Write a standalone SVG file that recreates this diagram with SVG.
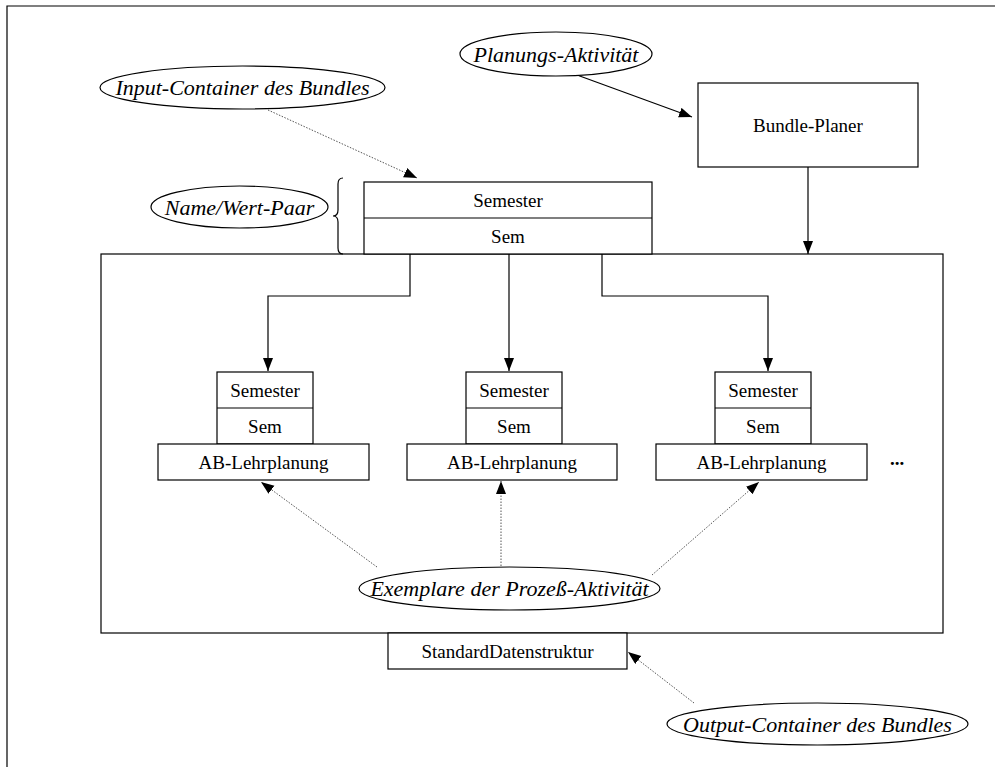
<svg xmlns="http://www.w3.org/2000/svg" width="995" height="767" viewBox="0 0 995 767">
  <style>
    .box { fill: #fff; stroke: #000; stroke-width: 1.2; }
    .oval { fill: #fff; stroke: #000; stroke-width: 1.2; }
    .lbl { font-family: "Liberation Serif", "Times New Roman", serif; font-size: 19px; fill: #000; text-anchor: middle; }
    .note { font-family: "Liberation Serif", "Times New Roman", serif; font-size: 22px; font-style: italic; fill: #000; text-anchor: middle; }
    .solid { fill: none; stroke: #000; stroke-width: 1.2; }
    .dotted { fill: none; stroke: #555; stroke-width: 1; stroke-dasharray: 1.5 1.5; }
    .frame { fill: none; stroke: #000; stroke-width: 1.2; }
  </style>
  <defs>
    <marker id="head" markerUnits="userSpaceOnUse" markerWidth="14" markerHeight="12" refX="13" refY="5" orient="auto">
      <path d="M0,0 L13,5 L0,10 z" fill="#000"/>
    </marker>
  </defs>

  <rect width="995" height="767" fill="#fff"/>

  <!-- page frame -->
  <path class="frame" d="M7,767 L7,6 L995,6"/>

  <!-- bundle container -->
  <g id="bundle">
    <rect class="box" x="101" y="254" width="842" height="379" fill="none"/>
  </g>

  <g id="connectors">
    <!-- planning activity to planner -->
    <line class="solid" x1="577" y1="75" x2="692" y2="117" marker-end="url(#head)"/>
    <!-- planner to bundle -->
    <line class="solid" x1="808" y1="167" x2="808" y2="254" marker-end="url(#head)"/>
    <!-- input container to instances -->
    <polyline class="solid" points="410,254 410,296 268,296 268,371" marker-end="url(#head)"/>
    <line class="solid" x1="509" y1="254" x2="509" y2="371" marker-end="url(#head)"/>
    <polyline class="solid" points="602,254 602,296 768,296 768,371" marker-end="url(#head)"/>
    <!-- annotations -->
    <line class="dotted" x1="268" y1="110" x2="417" y2="178" marker-end="url(#head)"/>
    <line class="dotted" x1="377" y1="567" x2="261" y2="482" marker-end="url(#head)"/>
    <line class="dotted" x1="501" y1="566" x2="501" y2="481" marker-end="url(#head)"/>
    <line class="dotted" x1="652" y1="575" x2="759" y2="482" marker-end="url(#head)"/>
    <line class="dotted" x1="694" y1="703" x2="628" y2="652" marker-end="url(#head)"/>
    <!-- brace for name/value pair -->
    <path class="solid" d="M343,178 Q338,178 338,184 L338,210 Q338,216 333,216 Q338,216 338,222 L338,248 Q338,254 343,254"/>
  </g>

  <g id="planungs-aktivitaet">
    <ellipse class="oval" cx="556" cy="54" rx="96" ry="22"/>
    <text class="note" x="556" y="61.5">Planungs-Aktivität</text>
  </g>

  <g id="input-container">
    <ellipse class="oval" cx="242.5" cy="87.5" rx="142.5" ry="21.5"/>
    <text class="note" x="242.5" y="95">Input-Container des Bundles</text>
  </g>

  <g id="bundle-planer">
    <rect class="box" x="698" y="83" width="220" height="84"/>
    <text class="lbl" x="808" y="131.5">Bundle-Planer</text>
  </g>

  <g id="name-wert-paar">
    <ellipse class="oval" cx="239.5" cy="207" rx="88.5" ry="21"/>
    <text class="note" x="239.5" y="214.5">Name/Wert-Paar</text>
  </g>

  <g id="input-pair">
    <rect class="box" x="364" y="182" width="288" height="72"/>
    <line class="solid" x1="364" y1="218" x2="652" y2="218"/>
    <text class="lbl" x="508" y="206.5">Semester</text>
    <text class="lbl" x="508" y="242.5">Sem</text>
  </g>

  <g id="instance-1">
    <rect class="box" x="217" y="372" width="96" height="72"/>
    <line class="solid" x1="217" y1="408" x2="313" y2="408"/>
    <text class="lbl" x="265" y="396.5">Semester</text>
    <text class="lbl" x="265" y="432.5">Sem</text>
    <rect class="box" x="158" y="444" width="211" height="36"/>
    <text class="lbl" x="263.5" y="468.5">AB-Lehrplanung</text>
  </g>

  <g id="instance-2">
    <rect class="box" x="466" y="372" width="96" height="72"/>
    <line class="solid" x1="466" y1="408" x2="562" y2="408"/>
    <text class="lbl" x="514" y="396.5">Semester</text>
    <text class="lbl" x="514" y="432.5">Sem</text>
    <rect class="box" x="407" y="444" width="210" height="36"/>
    <text class="lbl" x="512" y="468.5">AB-Lehrplanung</text>
  </g>

  <g id="instance-3">
    <rect class="box" x="715" y="372" width="96" height="72"/>
    <line class="solid" x1="715" y1="408" x2="811" y2="408"/>
    <text class="lbl" x="763" y="396.5">Semester</text>
    <text class="lbl" x="763" y="432.5">Sem</text>
    <rect class="box" x="656" y="444" width="211" height="36"/>
    <text class="lbl" x="761.5" y="468.5">AB-Lehrplanung</text>
  </g>

  <g id="more-instances">
    <text class="lbl" x="897" y="465" style="font-weight:bold">...</text>
  </g>

  <g id="exemplare">
    <ellipse class="oval" cx="509.5" cy="588.5" rx="150.5" ry="21.5"/>
    <text class="note" x="509.5" y="596">Exemplare der Prozeß-Aktivität</text>
  </g>

  <g id="standard-datenstruktur">
    <rect class="box" x="388" y="633" width="239" height="36"/>
    <text class="lbl" x="507.5" y="657.5">StandardDatenstruktur</text>
  </g>

  <g id="output-container">
    <ellipse class="oval" cx="817.5" cy="724" rx="150.5" ry="21"/>
    <text class="note" x="817.5" y="731.5">Output-Container des Bundles</text>
  </g>
</svg>
